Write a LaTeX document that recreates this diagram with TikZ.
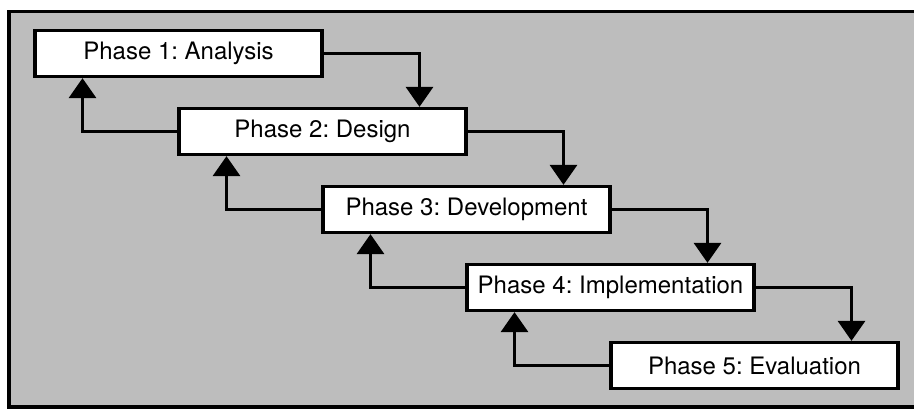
\documentclass[tikz,border=0pt]{standalone}
\usepackage{fontspec}
\setmainfont{TeX Gyre Heros}
\usetikzlibrary{arrows.meta}
\definecolor{stipple}{HTML}{BDBDBD}
\begin{document}
\frenchspacing
\begin{tikzpicture}[x=1pt,y=-1pt,
  phasebox/.style={draw=black,fill=white,line width=3.3pt,minimum width=287pt,minimum height=46pt,inner sep=0pt,font=\fontsize{24}{26}\selectfont},
  flow/.style={line width=3.3pt,-{Triangle[width=27pt,length=20pt]}}]
\useasboundingbox (0,0) rectangle (914,411);
\begin{scope}
\clip (0,0) rectangle (914,411);
\draw[line width=3.5pt,fill=stipple] (9,11.5) rectangle (930,407);
\end{scope}
\node[phasebox] (b1) at (178.5,53.5) {Phase 1: Analysis};
\node[phasebox] (b2) at (322.5,131.5) {Phase 2: Design};
\node[phasebox] (b3) at (466.5,209.5) {Phase 3: Development};
\node[phasebox] (b4) at (610.5,287.5) {Phase 4: Implementation};
\node[phasebox] (b5) at (754.5,365.5) {Phase 5: Evaluation};
\draw[flow] (b1.east) -| ([xshift=97pt]b2.north);
\draw[flow] (b2.east) -| ([xshift=97pt]b3.north);
\draw[flow] (b3.east) -| ([xshift=97pt]b4.north);
\draw[flow] (b4.east) -| ([xshift=97pt]b5.north);
\draw[flow] (b2.west) -| ([xshift=-96pt]b1.south);
\draw[flow] (b3.west) -| ([xshift=-96pt]b2.south);
\draw[flow] (b4.west) -| ([xshift=-96pt]b3.south);
\draw[flow] (b5.west) -| ([xshift=-96pt]b4.south);
\end{tikzpicture}
\end{document}
